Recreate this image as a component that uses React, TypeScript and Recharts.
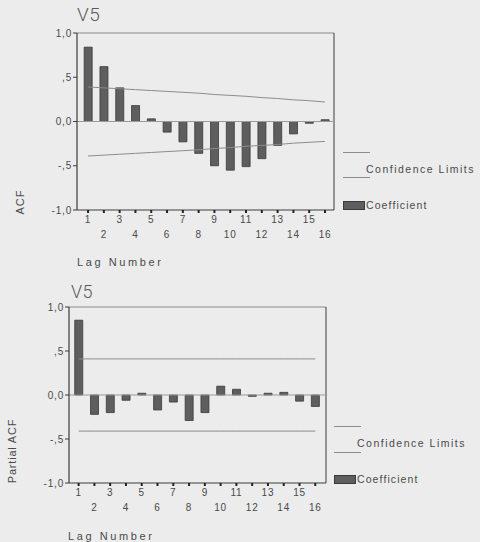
import React from "react";
import { ComposedChart, Bar, Line, XAxis, YAxis, ReferenceLine } from "recharts";

const lags = [1, 2, 3, 4, 5, 6, 7, 8, 9, 10, 11, 12, 13, 14, 15, 16];
const acfValues = [0.84, 0.62, 0.38, 0.18, 0.03, -0.12, -0.23, -0.36, -0.5, -0.55, -0.51, -0.42, -0.27, -0.14, -0.02, 0.02];
const acfUpper = [0.39, 0.38, 0.37, 0.36, 0.35, 0.34, 0.33, 0.32, 0.305, 0.295, 0.285, 0.27, 0.26, 0.245, 0.235, 0.22];
const acfLower = [-0.39, -0.38, -0.37, -0.36, -0.35, -0.34, -0.33, -0.32, -0.305, -0.295, -0.28, -0.27, -0.26, -0.245, -0.235, -0.225];
const pacfValues = [0.85, -0.22, -0.2, -0.06, 0.02, -0.17, -0.08, -0.29, -0.2, 0.1, 0.065, -0.015, 0.02, 0.03, -0.07, -0.13];
const pacfUpper = [0.41, 0.41, 0.41, 0.41, 0.41, 0.41, 0.41, 0.41, 0.41, 0.41, 0.41, 0.41, 0.41, 0.41, 0.41, 0.41];
const pacfLower = [-0.41, -0.41, -0.41, -0.41, -0.41, -0.41, -0.41, -0.41, -0.41, -0.41, -0.41, -0.41, -0.41, -0.41, -0.41, -0.41];
const yTickValues = [-1, -0.5, 0, 0.5, 1];
const yTickLabels = ["-1,0", "-,5", "0,0", ",5", "1,0"];
const chartTitle = "V5";
const xTitle = "Lag Number";
const legendLimits = "Confidence Limits";
const legendCoef = "Coefficient";

const acfData = lags.map((lag, i) => ({ lag, coef: acfValues[i], upper: acfUpper[i], lower: acfLower[i] }));
const pacfData = lags.map((lag, i) => ({ lag, coef: pacfValues[i], upper: pacfUpper[i], lower: pacfLower[i] }));

const FONT = "'Liberation Sans', Arial, sans-serif";
const TEXT = "#4a4a4a";
const LIMIT = "#8c8c8c";
const BAR = "#5e5e5e";
const BAR_STROKE = "#3a3a3a";
const AXIS = "#3c3c3c";
const BORDER = "#8a8a8a";

const XTick = (props: any) => {
  const { x, y, payload } = props;
  const odd = payload.value % 2 === 1;
  return (
    <text x={x} y={y + (odd ? 9.5 : 24.5)} textAnchor="middle" fontSize={10} fill={TEXT} fontFamily={FONT} letterSpacing={0.8}>
      {payload.value}
    </text>
  );
};

const fmtY = (v: number) => {
  const idx = yTickValues.indexOf(v);
  return idx >= 0 ? yTickLabels[idx] : String(v);
};

type PanelProps = {
  data: any[];
  top: number;
  height: number;
  yAxisWidth: number;
  rightMargin: number;
  domain: [number, number];
};

const Panel = ({ data, top, height, yAxisWidth, rightMargin, domain }: PanelProps) => (
  <div style={{ position: "absolute", left: 0, top, width: 480, height }}>
    <ComposedChart width={480} height={height} data={data} margin={{ top: 33, right: rightMargin, bottom: 0, left: 0 }}>
      <XAxis
        dataKey="lag"
        type="number"
        domain={domain}
        allowDataOverflow
        ticks={lags}
        interval={0}
        height={60}
        tickSize={3}
        tickMargin={0}
        tick={<XTick />}
        axisLine={{ stroke: AXIS, strokeWidth: 1.2 }}
        tickLine={{ stroke: "#222", strokeWidth: 2 }}
      />
      <YAxis
        type="number"
        domain={[-1, 1]}
        ticks={yTickValues}
        interval={0}
        width={yAxisWidth}
        tickSize={4}
        tickMargin={1}
        tickFormatter={fmtY}
        tick={{ fontSize: 10, fill: TEXT, fontFamily: FONT, letterSpacing: 0.8 }}
        axisLine={{ stroke: AXIS, strokeWidth: 1.2 }}
        tickLine={{ stroke: AXIS }}
      />
      <ReferenceLine y={1} stroke={BORDER} strokeWidth={1} />
      <ReferenceLine x={domain[1]} stroke={AXIS} strokeWidth={1} />
      <ReferenceLine y={0} stroke="#9a9a9a" strokeWidth={1} />
      <Bar dataKey="coef" barSize={8} fill={BAR} stroke={BAR_STROKE} strokeWidth={0.8} isAnimationActive={false} />
      <Line dataKey="upper" type="linear" stroke={LIMIT} strokeWidth={1} dot={false} isAnimationActive={false} />
      <Line dataKey="lower" type="linear" stroke={LIMIT} strokeWidth={1} dot={false} isAnimationActive={false} />
    </ComposedChart>
  </div>
);

const txt = (style: React.CSSProperties, content: string) => (
  <div style={{ position: "absolute", fontFamily: FONT, color: TEXT, whiteSpace: "nowrap", lineHeight: 1, ...style }}>{content}</div>
);

const LegendBlock = ({ left, top1, top2, textLeft, textTop, swatchTop, swatchW, lineW }: any) => (
  <>
    <div style={{ position: "absolute", left, top: top1, width: lineW, height: 1, background: LIMIT }} />
    <div style={{ position: "absolute", left, top: top2, width: lineW, height: 1, background: LIMIT }} />
    {txt({ left: textLeft, top: textTop - 5.5, fontSize: 10.5, letterSpacing: 1.5 }, legendLimits)}
    <div style={{ position: "absolute", left, top: swatchTop, width: swatchW, height: 9, background: BAR, boxSizing: "border-box", border: `1px solid ${BAR_STROKE}` }} />
    {txt({ left: left + swatchW + 1, top: swatchTop - 1, fontSize: 10.5, letterSpacing: 1.1 }, legendCoef)}
  </>
);

const TITLE_FONT = "Roboto, 'Liberation Sans', sans-serif";

export default function App() {
  return (
    <div style={{ position: "absolute", left: 0, top: 0, width: 480, height: 542, background: "#ececec", overflow: "hidden" }}>
      <Panel data={acfData} top={0} height={270} yAxisWidth={77} rightMargin={146} domain={[0.3, 16.57]} />
      <Panel data={pacfData} top={274} height={269} yAxisWidth={69} rightMargin={154} domain={[0.39, 16.68]} />

      {txt({ left: 77, top: 5, fontSize: 19, color: "#5a5a5a", fontFamily: TITLE_FONT, fontWeight: 300, letterSpacing: 0.5 }, chartTitle)}
      {txt({ left: 71, top: 283, fontSize: 18, color: "#5a5a5a", fontFamily: TITLE_FONT, fontWeight: 300, letterSpacing: 0.5 }, chartTitle)}

      {txt({ left: 77, top: 257, fontSize: 11, letterSpacing: 2.6 }, xTitle)}
      {txt({ left: 68, top: 531, fontSize: 11, letterSpacing: 2.6 }, xTitle)}

      <div style={{ position: "absolute", left: 20, top: 202, transform: "translate(-50%, -50%) rotate(-90deg)", fontFamily: FONT, fontSize: 11, color: TEXT, whiteSpace: "nowrap", lineHeight: 1, letterSpacing: 1 }}>ACF</div>
      <div style={{ position: "absolute", left: 12, top: 451, transform: "translate(-50%, -50%) rotate(-90deg)", fontFamily: FONT, fontSize: 11, color: TEXT, whiteSpace: "nowrap", lineHeight: 1, letterSpacing: 0.8 }}>Partial ACF</div>

      <LegendBlock left={343} top1={152} top2={177} textLeft={366} textTop={169} swatchTop={201} swatchW={22} lineW={27} />
      <LegendBlock left={334} top1={426} top2={452} textLeft={357} textTop={443} swatchTop={475} swatchW={22} lineW={27} />
    </div>
  );
}
